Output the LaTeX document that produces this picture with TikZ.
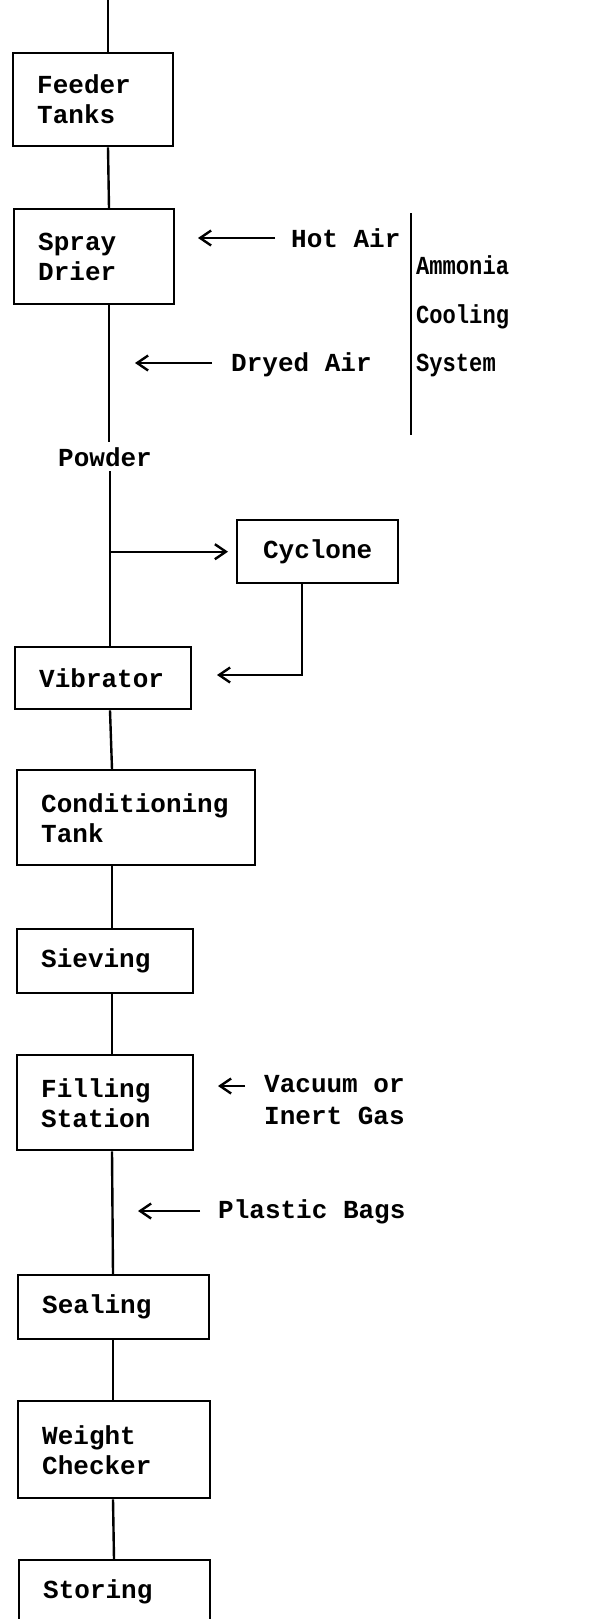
\documentclass[tikz,border=0pt]{standalone}
\usepackage{fontspec}
\setmainfont{Liberation Mono}
\newfontfamily\narrowfont{Liberation Mono}[FakeStretch=0.85]
\usetikzlibrary{arrows.meta}

\tikzset{
  box/.style={draw, anchor=north west, align=left, inner xsep=24pt, inner ysep=4pt},
  lbl/.style={inner sep=0pt, anchor=base west},
  >={Straight Barb[length=11pt,width=15pt]}
}

\begin{document}
\begin{tikzpicture}[x=1pt, y=-1pt, line width=2.4pt, font=\fontsize{26}{30}\selectfont\bfseries]
        \useasboundingbox (0,0) rectangle (605,1619);
        %blocchi della linea
        \node[box, text width=112pt, minimum height=93pt] (feeder) at (12,52) {Feeder\\Tanks};
        \node[box, text width=112pt, minimum height=95pt] (spray) at (13,208) {Spray\\Drier};
        \node[box, text width=113pt, minimum height=63pt, align=center] (cyclone) at (236,519) {Cyclone};
        \node[box, text width=128pt, minimum height=62pt] (vibrator) at (14,646) {Vibrator};
        \node[box, text width=190pt, minimum height=95pt] (cond) at (16,769) {Conditioning\\Tank};
        \node[box, text width=128pt, minimum height=64pt] (sieving) at (16,928) {Sieving};
        \node[box, text width=128pt, minimum height=95pt] (filling) at (16,1054) {Filling\\Station};
        \node[box, text width=143pt, minimum height=64pt] (sealing) at (17,1274) {Sealing};
        \node[box, text width=144pt, minimum height=97pt] (weight) at (17,1400) {Weight\\Checker};
        \node[box, text width=143pt, minimum height=64pt] (storing) at (18,1559) {Storing};
        %ingresso
        \coordinate (top) at (108,-2);
        \draw (top) -- ([xshift=96pt]feeder.north west);
        \draw ([xshift=96pt]feeder.south west) -- ([xshift=96pt]spray.north west);
        %polvere
        \node[lbl, inner sep=4pt] (powder) at (53,466) {Powder};
        \coordinate (p1) at ([xshift=96pt]spray.south west);
        \coordinate (p2) at ([xshift=96pt]vibrator.north west);
        \draw (p1) -- (p1 |- powder.north);
        \draw (p2 |- powder.south) -- (p2);
        %ciclone
        \draw[->] (p2 |- cyclone.west) -- ([xshift=-8pt]cyclone.west);
        \coordinate (cycret) at (217,675);
        \draw[->] ([xshift=-16pt]cyclone.south) |- (cycret);
        %resto della linea
        \draw ([xshift=96pt]vibrator.south west) -- ([xshift=96pt]cond.north west);
        \draw ([xshift=96pt]cond.south west) -- ([xshift=96pt]sieving.north west);
        \draw ([xshift=96pt]sieving.south west) -- ([xshift=96pt]filling.north west);
        \draw ([xshift=96pt]filling.south west) -- ([xshift=96pt]sealing.north west);
        \draw ([xshift=96pt]sealing.south west) -- ([xshift=96pt]weight.north west);
        \draw ([xshift=96pt]weight.south west) -- ([xshift=96pt]storing.north west);
        %aria calda
        \node[lbl] (hotair) at (290,247) {Hot Air};
        \coordinate (hot1) at (275,238);
        \coordinate (hot2) at (198,238);
        \draw[->] (hot1) -- (hot2);
        %aria secca
        \node[lbl] (dryair) at (230,371) {Dryed Air};
        \coordinate (dry1) at (212,363);
        \coordinate (dry2) at (135,363);
        \draw[->] (dry1) -- (dry2);
        %raffreddamento
        \coordinate (bar1) at (411,213);
        \coordinate (bar2) at (411,435);
        \draw (bar1) -- (bar2);
        \node[lbl, font=\narrowfont\fontsize{26}{30}\selectfont\bfseries] (amm1) at (415,274) {Ammonia};
        \node[lbl, font=\narrowfont\fontsize{26}{30}\selectfont\bfseries] (amm2) at (415,323) {Cooling};
        \node[lbl, font=\narrowfont\fontsize{26}{30}\selectfont\bfseries] (amm3) at (415,371) {System};
        %vuoto o gas inerte
        \node[lbl] (vacuum) at (263,1092) {Vacuum or};
        \node[lbl] (inert) at (263,1124) {Inert Gas};
        \coordinate (vac1) at (245,1086);
        \coordinate (vac2) at (218,1086);
        \draw[->] (vac1) -- (vac2);
        %sacchetti
        \node[lbl] (bags) at (217,1218) {Plastic Bags};
        \coordinate (bag1) at (200,1211);
        \coordinate (bag2) at (138,1211);
        \draw[->] (bag1) -- (bag2);
    \end{tikzpicture}
\end{document}
